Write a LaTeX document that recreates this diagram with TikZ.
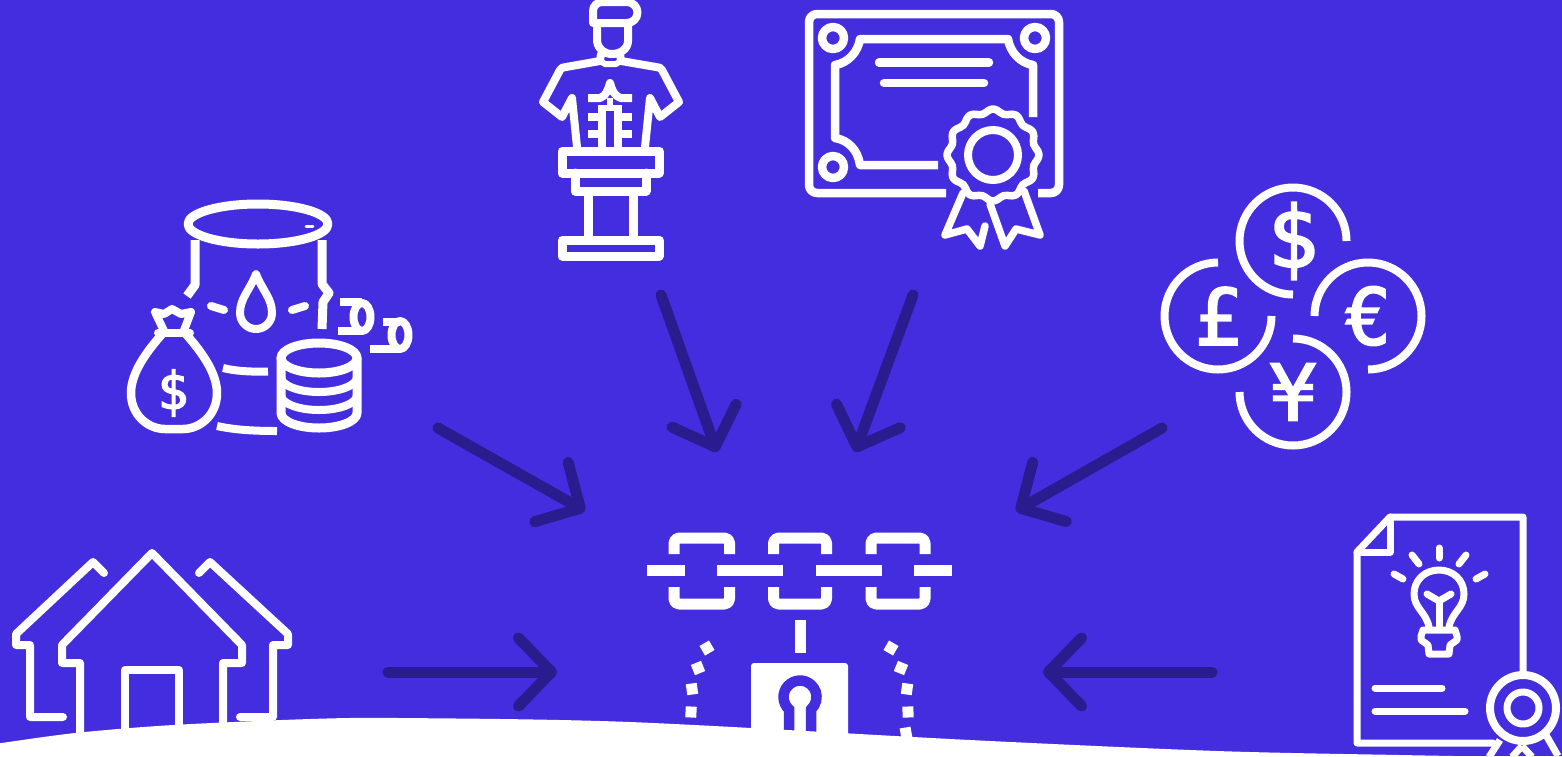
\documentclass[tikz,border=0pt]{standalone}
\usepackage{fontspec}
\usetikzlibrary{arrows.meta}
\newfontfamily\coinfont[FakeBold=2.5]{DejaVu Sans Mono}
\definecolor{bgblue}{HTML}{442DDE}
\definecolor{arrowblue}{HTML}{2A1B8E}
\tikzset{
  icon/.style={draw=white,line width=#1,line cap=round,line join=round},
  icon/.default=7,
  flat/.style={draw=white,line width=#1,line cap=butt,line join=round},
  flat/.default=7,
  conn/.style={draw=arrowblue,line width=11,line cap=round,-{Straight Barb[length=33pt,width=68pt,round]}},
  coinsign/.style={text=white,inner sep=0,font=\coinfont\fontsize{#1}{#1}\selectfont},
  sq/.style={fill=white,draw=none}
}
\begin{document}
\begin{tikzpicture}[x=1pt,y=-1pt]
\useasboundingbox (0,0) rectangle (1562,756);
\fill[bgblue] (0,0) rectangle (1562,756);

% connector end points
\coordinate (barrelS) at (438,428); \coordinate (barrelE) at (585,511);
\coordinate (statueS) at (661,295); \coordinate (statueE) at (717,452);
\coordinate (certS) at (913,295);   \coordinate (certE) at (855,452);
\coordinate (coinS) at (1162,428);  \coordinate (coinE) at (1016,511);
\coordinate (houseS) at (388,672);  \coordinate (houseE) at (557,672);
\coordinate (paperS) at (1212,672); \coordinate (paperE) at (1043,672);
\draw[conn] (barrelS) -- (barrelE);
\draw[conn] (statueS) -- (statueE);
\draw[conn] (certS) -- (certE);
\draw[conn] (coinS) -- (coinE);
\draw[conn] (houseS) -- (houseE);
\draw[conn] (paperS) -- (paperE);

% ---------- barrel
\path[icon=9] (258,224) ellipse [x radius=70,y radius=20];
\draw[icon=3] (306,226) -- (313,226);
\path[flat=9] (195,240) -- (195,285) -- (187,296);
\path[flat=9] (322,240) -- (322,284) -- (329,293) -- (323,302) -- (322,329);
\path[icon=8] (211,306) -- (224,310);
\path[icon=8] (292,310) -- (305,306);
\path[icon=8] (256,274) .. controls (250,290) and (240,298) .. (240,313) arc[start angle=180,end angle=0,radius=16] .. controls (272,298) and (262,290) .. (256,274);
\path[flat=8] (223,368) .. controls (235,371) and (250,372) .. (268,371.5);
\path[flat=8] (217,426) .. controls (235,430) and (255,431) .. (277,431);
% drips
\path[flat=8] (340,302) -- (362,302);
\path[flat=8] (338,331) -- (362,331);
\path[flat=8] (362,317) ellipse [x radius=8.5,y radius=14];
\path[flat=8] (383,322) -- (400,322);
\path[flat=8] (370,349) -- (400,349);
\path[flat=8] (400,335) ellipse [x radius=8.5,y radius=14];
% bag
\path[icon=8.5] (163,333) .. controls (148,350) and (131,372) .. (131,393) .. controls (131,415) and (148,429) .. (165,429) -- (183,429) .. controls (200,429) and (217,415) .. (217,393) .. controls (217,372) and (200,350) .. (185,333);
\path[icon=8] (158,333) -- (190,333);
\path[icon=8] (165,333) -- (155,312) -- (164,314) -- (172,309) -- (181,314) -- (191,312) -- (183,333);
\node[coinsign=52] (bagsign) at (173,393) {\$};
% coins stack
\path[icon=9] (319,358) ellipse [x radius=38,y radius=15];
\path[icon=9] (281,358) -- (281,413) arc[start angle=180,end angle=0,x radius=38,y radius=15] -- (357,358);
\path[icon=8] (281,377) arc[start angle=180,end angle=0,x radius=38,y radius=15];
\path[icon=8] (281,395) arc[start angle=180,end angle=0,x radius=38,y radius=15];

% ---------- statue
\path[icon=8] (593,23) -- (593,11) arc[start angle=180,end angle=270,radius=9] -- (627,2) arc[start angle=-90,end angle=90,radius=10.5] -- (593,23);
\path[icon=8] (597,23) -- (597,41) .. controls (598,49) and (604,54) .. (612,54) .. controls (620,54) and (628,49) .. (628,41) -- (628,23);
\path[icon=8] (601,54) -- (600,61) -- (566,67) .. controls (563,67) and (561,68) .. (560,70) -- (543,102) -- (562,117) -- (572,98) -- (577,147);
\path[icon=8] (620,54) -- (621,61) -- (656,67) .. controls (659,67) and (661,68) .. (662,70) -- (679,102) -- (660,117) -- (650,98) -- (645,147);
\path[icon=6] (600,61) -- (605,64) -- (616,64) -- (621,61);
\path[flat=8] (588,98) -- (600,98) .. controls (606,96) and (608,90) .. (610,83) .. controls (612,90) and (614,96) .. (621,98) -- (632,98);
\path[flat=7.5] (602,147) -- (602,108);
\path[flat=7.5] (618,147) -- (618,108);
\path[flat=6] (598,108) -- (622,108);
\path[flat=7.5] (588,117) -- (602,117);
\path[flat=7.5] (588,134) -- (602,134);
\path[flat=7.5] (618,117) -- (632,117);
\path[flat=7.5] (618,134) -- (632,134);
\path[flat=6] (610,98) -- (610,108);
\path[icon=9] (562,151) rectangle (659,173);
\path[icon=9] (575,173) -- (575,191) -- (646,191) -- (646,173);
\path[flat=9] (588,191) -- (588,240);
\path[flat=9] (633,191) -- (633,240);
\path[icon=9] (562,240) rectangle (659,256);

% ---------- certificate
\path[flat=8.5] (946,193) -- (817,193) arc[start angle=90,end angle=180,radius=8] -- (809,22) arc[start angle=180,end angle=270,radius=8] -- (1051,14) arc[start angle=270,end angle=360,radius=8] -- (1059,185) arc[start angle=0,end angle=90,radius=8] -- (1038,193);
\path[icon=8.5] (833,38) circle [radius=11];
\path[icon=8.5] (1035,38) circle [radius=11];
\path[icon=8.5] (833,167) circle [radius=11];
\path[flat=8.5] (938,165) -- (860,165) .. controls (858,150) and (848,140) .. (835,138) -- (835,65) .. controls (848,63) and (858,52) .. (860,39) -- (1008,39) .. controls (1010,52) and (1020,63) .. (1033,65) -- (1033,117);
\path[icon=8.5] (879,62.5) -- (989,62.5);
\path[icon=8.5] (884,83) -- (984,83);
\draw[icon=7.5] plot[smooth,domain=0:360,samples=73] ({993+(44+2*cos(12*\x))*cos(\x)},{155+(44+2*cos(12*\x))*sin(\x)}) -- cycle;
\path[icon=8] (993,155) circle [radius=25];
\path[icon=7.5] (963,193) -- (945,235) -- (967,229) -- (980,246) -- (985,226);
\path[icon=7.5] (990,204) -- (1005,246) -- (1016,229) -- (1040,235) -- (1024,191);

% ---------- currency
\path[flat=8] (1346.5,241) arc[start angle=0,end angle=-270,radius=53.5];
\path[flat=8] (1218,262.5) arc[start angle=-90,end angle=-360,radius=53.5];
\path[flat=8] (1314.5,316) arc[start angle=-180,end angle=90,radius=53.5];
\path[flat=8] (1293,338.5) arc[start angle=-90,end angle=180,radius=53.5];
\node[coinsign=85] (dollar) at (1293,241) {\$};
\node[coinsign=78] (pound) at (1218,316) {£};
\node[coinsign=78] (euro) at (1368,316) {€};
\node[coinsign=78] (yen) at (1293,392) {¥};

% ---------- house
\path[icon=8] (80,735) -- (80,663) -- (62,663) -- (62,645) -- (152,553) -- (242,645) -- (242,663) -- (223,663) -- (223,735);
\path[icon=8] (125,735) -- (125,670) -- (179,670) -- (179,735);
\path[icon=8] (104,573) -- (93,562) -- (16,634) -- (16,645) -- (30,645) -- (30,717) -- (63,717);
\path[icon=8] (199,573) -- (210,562) -- (288,634) -- (288,645) -- (273,645) -- (273,717) -- (240,717);

% ---------- chain and lock
\foreach \xa/\xb in {674/729.5,773.5/826.5,871/925}{
  \path[flat=11] (\xa,554) -- (\xa,543) arc[start angle=180,end angle=270,radius=5] -- ({\xb-5},538) arc[start angle=270,end angle=360,radius=5] -- (\xb,554);
  \path[flat=11] (\xa,587) -- (\xa,599) arc[start angle=180,end angle=90,radius=5] -- ({\xb-5},604) arc[start angle=90,end angle=0,radius=5] -- (\xb,587);
}
\path[flat=11] (647,570.5) -- (685,570.5);
\path[flat=11] (717,570.5) -- (783,570.5);
\path[flat=11] (816,570.5) -- (882,570.5);
\path[flat=11] (914,570.5) -- (952,570.5);
\path[flat=11] (800,620) -- (800,653);
\fill[white,rounded corners=3] (751,663) rectangle (848,760);
\draw[bgblue,line width=10.5] (789,745) -- (789,709.3) arc[start angle=132,end angle=408,radius=16.5] -- (811,745);
\foreach \px/\py/\rt in {707/648/30,698/668/22,692/689/8,691/712/-3,891/648/-30,901/668/-22,907/689/-8,908/712/2,906/733/10}{
  \fill[sq,rotate around={\rt:(\px,\py)}] ({\px-5.5},{\py-5.5}) rectangle ({\px+5.5},{\py+5.5});
}

% ---------- idea document
\path[icon=7] (1493,743) -- (1357,743) -- (1357,552) -- (1390,517) -- (1523,517) -- (1523,673);
\path[icon=7] (1390,517) -- (1390,552) -- (1357,552);
\path[icon=7] (1439,548) -- (1439,558);
\path[icon=7] (1412,555) -- (1419,564);
\path[icon=7] (1466,555) -- (1459,564);
\path[icon=7] (1394,574) -- (1403,579);
\path[icon=7] (1485,574) -- (1476,579);
\path[icon=7] (1429,627) .. controls (1426,612) and (1414,608) .. (1414,594) .. controls (1414,580) and (1425,570) .. (1439,570) .. controls (1453,570) and (1464,580) .. (1464,594) .. controls (1464,608) and (1452,612) .. (1449,627);
\path[icon=7] (1423,630) -- (1455,630) -- (1457,636) -- (1457,640) -- (1450,645) -- (1449,654) -- (1429,654) -- (1428,645) -- (1421,640) -- (1421,636) -- cycle;
\path[icon=7] (1427,594) -- (1439,601) -- (1451,594);
\path[flat=7] (1439,601) -- (1439,627);
\path[icon=7] (1375,688) -- (1442,688);
\path[icon=7] (1375,711) -- (1465,711);
\path[icon=8] (1523,708) circle [radius=33];
\path[icon=7] (1523,708) circle [radius=16];
\path[flat=7] (1500,740) -- (1489,757);
\path[flat=7] (1522,746) -- (1512,757);
\path[flat=7] (1522,746) -- (1532,757);
\path[flat=7] (1546,735) -- (1558,756);

% ---------- white wave
\fill[white] plot[smooth] coordinates {(-5,744) (75,733) (173,725) (310,719) (400,718) (630,722) (970,740) (1217,751) (1400,755) (1490,756.5) (1570,757)} -- (1570,760) -- (-5,760) -- cycle;
\end{tikzpicture}
\end{document}
